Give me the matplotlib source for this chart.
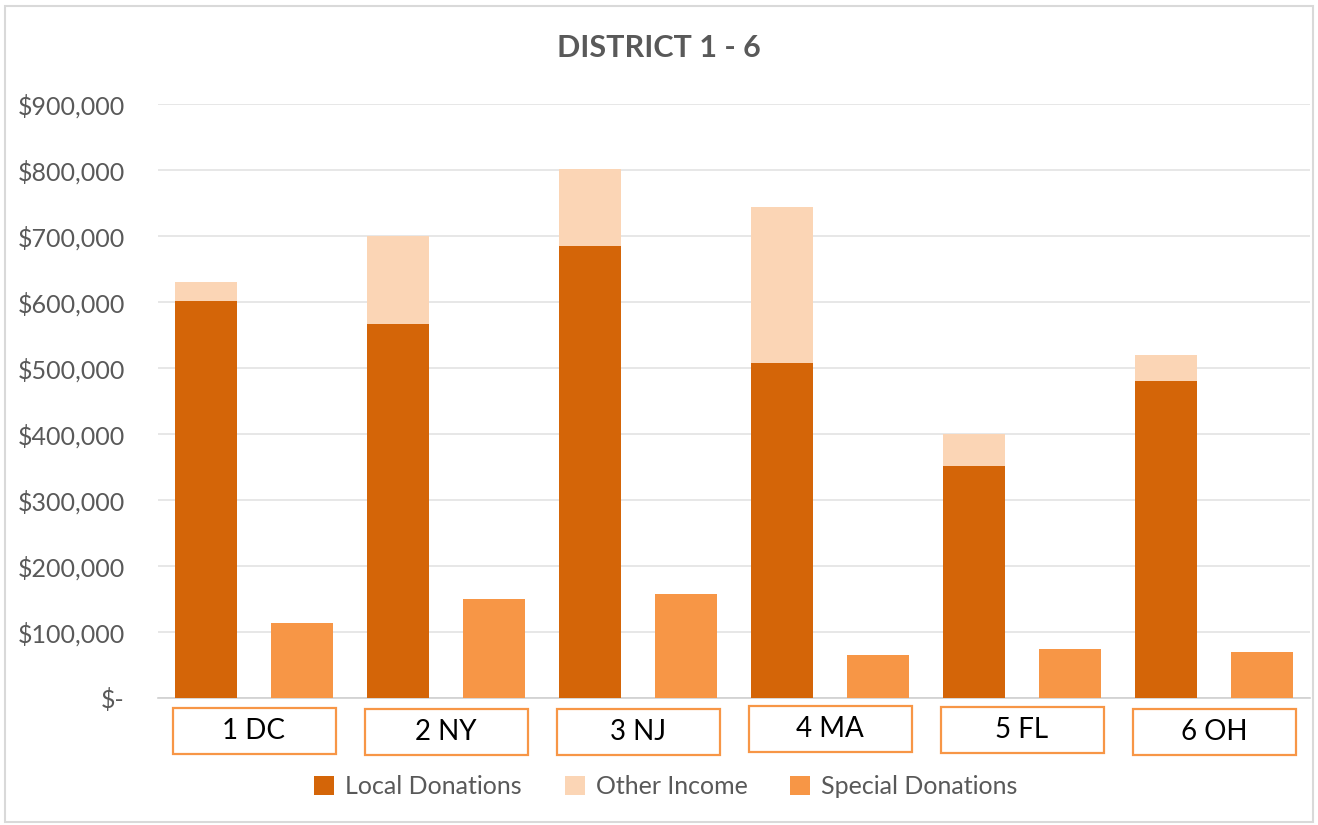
import numpy as np
import matplotlib.pyplot as plt
from matplotlib.patches import Rectangle
from matplotlib.ticker import FuncFormatter
import matplotlib.transforms as mtransforms

plt.rcParams['font.family'] = ['Lato', 'DejaVu Sans']

# data
districts = ['1 DC', '2 NY', '3 NJ', '4 MA', '5 FL', '6 OH']
local_donations = [601000, 567000, 685000, 508000, 352000, 480000]
other_income = [29000, 133000, 116000, 236000, 48000, 40000]
special_donations = [114000, 150000, 158000, 65000, 74000, 70000]

c_local = '#D46508'
c_other = '#FBD5B5'
c_special = '#F79646'

W, H = 1318, 825
fig = plt.figure(figsize=(W / 100, H / 100), dpi=100)
ax = fig.add_axes([158 / W, 1 - 698 / H, (1310 - 158) / W, (698 - 104) / H])

x = np.arange(len(districts))
bw = 62 / 192

ax.bar(x - 0.25, local_donations, bw, color=c_local, label='Local Donations', zorder=3)
ax.bar(x - 0.25, other_income, bw, bottom=local_donations, color=c_other,
       label='Other Income', zorder=3)
ax.bar(x + 0.25, special_donations, bw, color=c_special, label='Special Donations', zorder=3)

ax.set_xlim(-0.5, len(districts) - 0.5)
ax.set_ylim(0, 900000)
ax.set_yticks(np.arange(0, 900001, 100000))


def money(v, pos):
    if v == 0:
        return '$-'
    return '${:,.0f}'.format(v)


ax.yaxis.set_major_formatter(FuncFormatter(money))
ax.tick_params(axis='y', length=0, pad=24, labelsize=18, labelcolor='#595959')
ax.set_xticks([])
ax.grid(axis='y', color='#e3e3e3', linewidth=1.2, zorder=0)
for s in ['top', 'right', 'left']:
    ax.spines[s].set_visible(False)
ax.spines['bottom'].set_color('#d0d0d0')
ax.spines['bottom'].set_linewidth(1.2)

# category label boxes below the axis
trans = mtransforms.blended_transform_factory(ax.transData, ax.transAxes)
box_w = 163 / 192
box_top = [708, 709, 709, 706, 707, 709]
for i, name in enumerate(districts):
    top = (698 - box_top[i]) / 594
    h = 46 / 594
    ax.add_patch(Rectangle((i - box_w / 2, top - h), box_w, h, transform=trans,
                           facecolor='white', edgecolor=c_special, linewidth=1.6,
                           clip_on=False))
    ax.text(i, top - h / 2, name, transform=trans, ha='center', va='center',
            fontsize=20, color='black')

fig.text(0.5, 1 - 48 / H, 'DISTRICT 1 - 6', ha='center', va='center',
         fontsize=22, fontweight='bold', color='#595959')

fig.legend(loc='center', bbox_to_anchor=(666 / W, 1 - 787 / H), ncol=3, frameon=False,
           fontsize=18, labelcolor='#595959', handlelength=0.8, handleheight=0.8,
           handletextpad=0.45, columnspacing=1.7)

fig.add_artist(Rectangle((5 / W, 3 / H), 1308 / W, 816 / H, transform=fig.transFigure,
                         facecolor='none', edgecolor='#d9d9d9', linewidth=1.5))

fig.savefig('out.png', dpi=100)
